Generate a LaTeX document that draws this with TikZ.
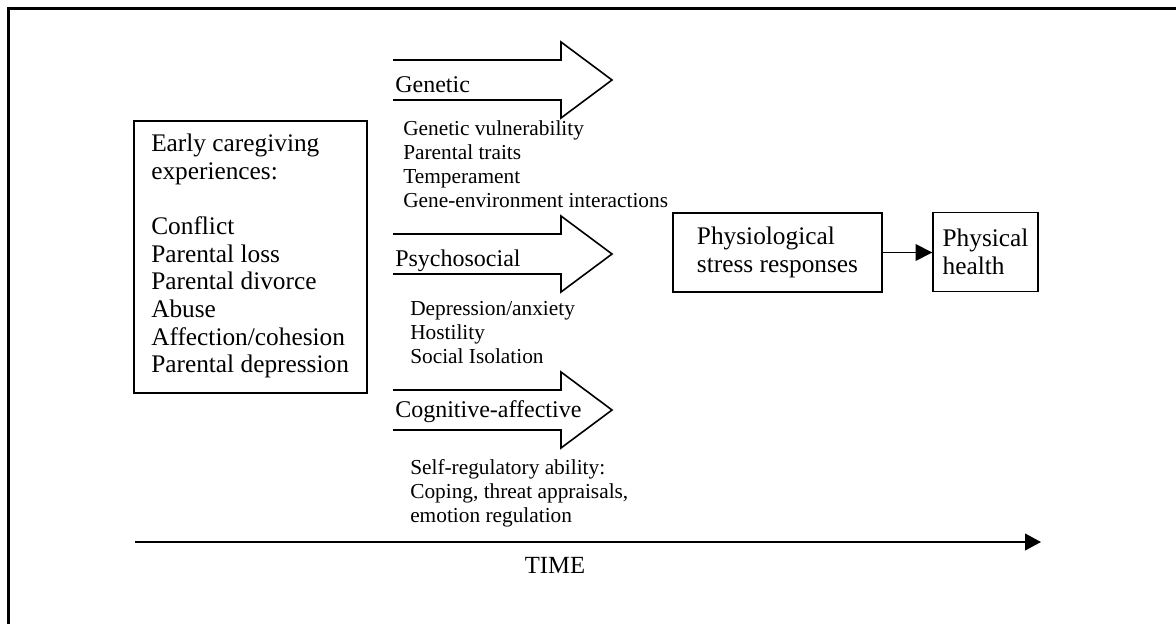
\documentclass[tikz,border=0pt]{standalone}
\usepackage{fontspec}
\setmainfont{Liberation Serif}
\usetikzlibrary{arrows.meta}

\begin{document}
\begin{tikzpicture}[x=0.75pt, y=-0.75pt,
        box/.style={draw, line width=1.1pt, inner sep=4pt},
        blockarrow/.style={line width=1.2pt, line join=miter},
        armlabel/.style={anchor=base west, inner sep=0pt, font=\fontsize{18}{21}\selectfont},
        sublist/.style={anchor=north west, align=left, inner sep=0pt, font=\fontsize{16}{18}\selectfont},
        conn/.style={line width=1.2pt, -{Triangle[length=12.5pt, width=12.5pt]}}]
        \useasboundingbox (0,0) rectangle (1176,624);

        % --- 1. Frame (only top and left show) ---
        \draw[line width=2.25pt] (8,624) -- (8,9) -- (1176,9);

        % --- 2. Early caregiving experiences ---
        \node[box, minimum width=174.75pt, minimum height=204pt] (early) at (250.5,257) {};
        \node[anchor=north west, align=left, inner sep=0pt, font=\fontsize{19}{20.7}\selectfont] (earlytext) at (151,134)
            {Early caregiving\\experiences:\\[20.7pt]Conflict\\Parental loss\\Parental divorce\\Abuse\\Affection/cohesion\\Parental depression};

        % --- 3. The three pathways (open-ended block arrows) ---
        \foreach \c/\b/\lab/\nm in {80/93/Genetic/gen, 254/266/Psychosocial/psy, 410/417/Cognitive-affective/cog} {
            \draw[blockarrow] (393,\c-20) -- (561,\c-20) -- (561,\c-38) -- (612,\c)
                -- (561,\c+38) -- (561,\c+20) -- (393,\c+20);
            \node[armlabel] (\nm) at (395,\b) {\lab};
        }

        % what each pathway carries
        \node[sublist] (genlist) at (403,120) {Genetic vulnerability\\Parental traits\\Temperament\\Gene-environment interactions};
        \node[sublist] (psylist) at (410,301) {Depression/anxiety\\Hostility\\Social Isolation};
        \node[sublist] (coglist) at (410,459) {Self-regulatory ability:\\Coping, threat appraisals,\\emotion regulation};

        % --- 4. Outcomes ---
        \node[box, align=left, minimum width=156.75pt, minimum height=59.25pt, font=\fontsize{19}{21}\selectfont] (physio) at (777.5,252.5)
            {Physiological\\stress responses};
        \node[box, align=left, minimum width=78.75pt, minimum height=59.25pt, font=\fontsize{19}{21}\selectfont] (health) at (985.5,252)
            {Physical\\health};
        \draw[conn] (physio.east) -- (physio.east -| health.west);

        % --- 5. Time axis ---
        \coordinate (tstart) at (135,542);
        \coordinate (tend) at (1041,542);
        \draw[line width=1.5pt, -{Triangle[length=12pt, width=12.5pt]}] (tstart) -- (tend);
        \node[font=\fontsize{18.5}{21}\selectfont] (time) at (555,565) {TIME};

    \end{tikzpicture}
\end{document}
